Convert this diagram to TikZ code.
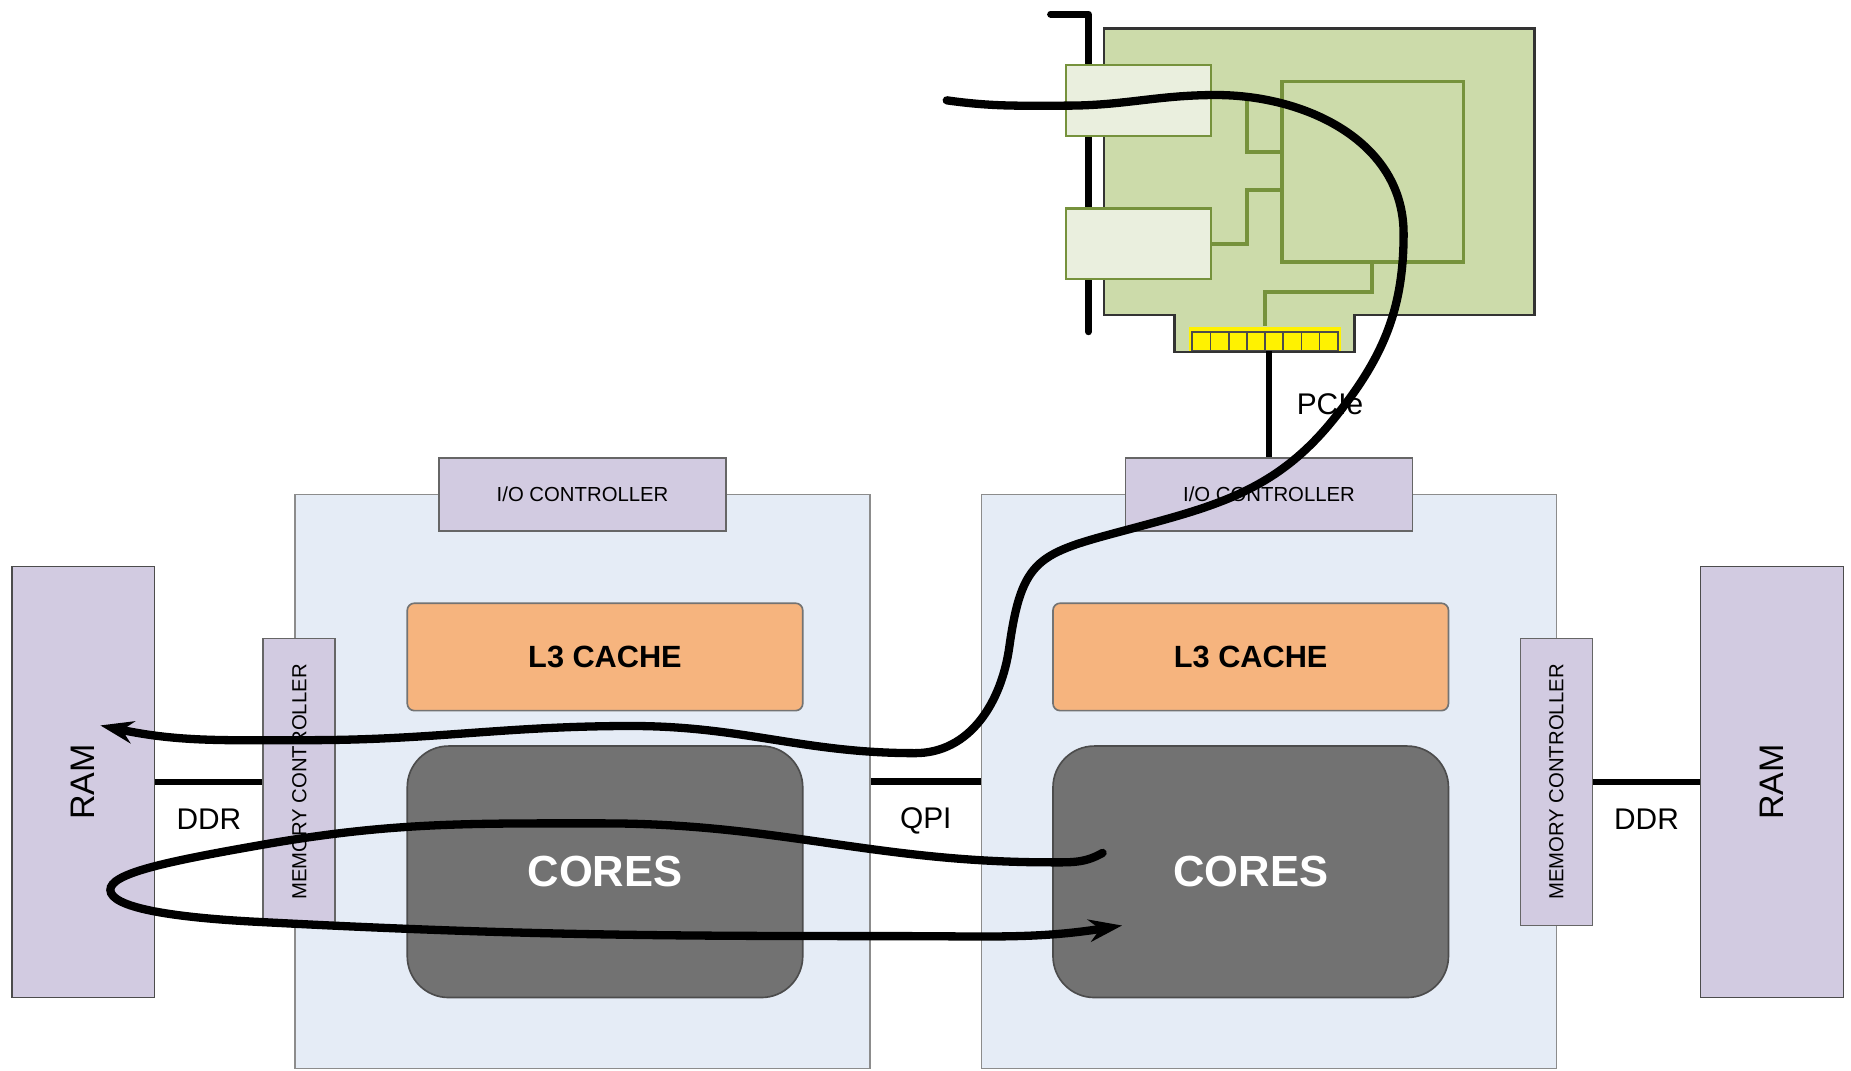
\documentclass[tikz,border=0pt]{standalone}
\usepackage{fontspec}
\setmainfont{Liberation Sans}
\usetikzlibrary{arrows.meta}

\definecolor{socketblue}{RGB}{229,236,246}
\definecolor{ctlpurple}{RGB}{210,203,225}
\definecolor{cacheorange}{RGB}{246,180,126}
\definecolor{coregray}{RGB}{114,114,114}
\definecolor{boardgreen}{RGB}{204,219,170}
\definecolor{portgreen}{RGB}{234,239,222}
\definecolor{traceolive}{RGB}{118,146,60}

\begin{document}
\begin{tikzpicture}[
    socket/.style={draw=black!45, fill=socketblue, minimum width=4.87cm, minimum height=4.86cm},
    ioctl/.style={draw=black!60, fill=ctlpurple, minimum width=2.43cm, minimum height=0.62cm, font=\fontsize{4.9}{6}\selectfont},
    memctl/.style={draw=black!60, fill=ctlpurple, rotate=90, minimum width=2.43cm, minimum height=0.61cm, font=\fontsize{4.9}{6}\selectfont},
    ram/.style={draw=black!70, fill=ctlpurple, rotate=90, minimum width=3.65cm, minimum height=1.21cm, font=\fontsize{8.2}{10}\selectfont},
    cache/.style={draw=black!55, fill=cacheorange, rounded corners=0.06cm, minimum width=3.35cm, minimum height=0.91cm, font=\bfseries\fontsize{7.4}{9}\selectfont},
    cores/.style={draw=black!70, fill=coregray, text=white, rounded corners=0.35cm, minimum width=3.35cm, minimum height=2.13cm, font=\bfseries\fontsize{10.5}{12}\selectfont},
    link/.style={line width=1.5pt},
    tag/.style={font=\fontsize{7.2}{9}\selectfont},
    port/.style={draw=traceolive, fill=portgreen, line width=0.6pt, minimum width=1.23cm, minimum height=0.6cm},
    trace/.style={draw=traceolive, line width=1pt},
    cable/.style={line width=2pt, line cap=round, -{Stealth[length=2.8mm, width=1.9mm]}}
  ]
  \useasboundingbox (0,0) rectangle (15.68,-9.07);

  % Nodes - sockets
  \node[socket] (cpuA) at (4.935,-6.62) {};
  \node[socket] (cpuB) at (10.75,-6.62) {};
  \node[ioctl] (ioA) at (4.935,-4.19) {I/O CONTROLLER};
  \node[ioctl] (ioB) at (10.75,-4.19) {I/O CONTROLLER};
  \node[memctl] (mcA) at (2.535,-6.625) {MEMORY CONTROLLER};
  \node[memctl] (mcB) at (13.185,-6.625) {MEMORY CONTROLLER};
  \node[cache] (l3A) at (5.125,-5.565) {L3 CACHE};
  \node[cache] (l3B) at (10.595,-5.565) {L3 CACHE};
  \node[cores] (coresA) at (5.125,-7.385) {CORES};
  \node[cores] (coresB) at (10.595,-7.385) {CORES};

  % Nodes - memory
  \node[ram] (ramA) at (0.705,-6.625) {RAM};
  \node[ram] (ramB) at (15.01,-6.625) {RAM};

  % Buses
  \draw[link] (ramA) -- node[tag, below=2.3pt] {DDR} (mcA);
  \draw[link] (cpuA) -- node[tag, below=2.3pt] {QPI} (cpuB);
  \draw[link] (mcB) -- node[tag, below=2.3pt] {DDR} (ramB);

  % Network card
  \draw[line width=1.7pt, line cap=round, line join=round] (8.90,-0.12) -- (9.22,-0.12) -- (9.22,-2.81);
  \draw[draw=black!80, fill=boardgreen, line width=0.6pt] (9.35,-0.24) -- (13.00,-0.24) -- (13.00,-2.67) -- (11.475,-2.67)
    -- (11.475,-2.98) -- (9.95,-2.98) -- (9.95,-2.67) -- (9.35,-2.67) -- cycle;
  \node[port] (portA) at (9.645,-0.85) {};
  \node[port] (portB) at (9.645,-2.065) {};
  \node[draw=traceolive, line width=0.8pt, minimum width=1.54cm, minimum height=1.53cm] (chip) at (11.63,-1.455) {};
  \node[fill=yellow, minimum width=1.29cm, minimum height=0.2cm, inner sep=0pt] (fingers) at (10.715,-2.87) {};
  \foreach \i in {0,...,7}
    \draw[black!70, fill=yellow, line width=0.4pt] ({10.10+\i*0.154},-2.81) rectangle ++(0.154,-0.16);
  \draw[trace] ([yshift=0.03cm]portA.east) -- ++(0.295,0) |- ([yshift=0.165cm]chip.west);
  \draw[trace] (portB.east) -- ++(0.295,0) |- ([yshift=-0.155cm]chip.west);
  \draw[trace] ([xshift=-0.01cm]chip.south) -- ++(0,-0.24) -| (fingers.north);
  \draw[link] (fingers.south -| ioB.north) -- node[tag, right=2.6pt] {PCIe} (ioB.north);

  % Packet path: wire -> card -> socket B -> RAM A
  \coordinate (plug) at (8.02,-0.85);
  \coordinate (dmaA) at ([shift={(0.145,0.48)}]ramA.center);
  \draw[cable] (plug) to[out=-8,in=180] (9.03,-0.895) to[out=0,in=180] (10.30,-0.805)
    to[out=0,in=90] (11.89,-1.98) to[out=-90,in=51] (11.29,-3.56)
    to[out=-129,in=15] (9.54,-4.49) to[out=-165,in=82,looseness=1.4] (8.55,-5.48)
    to[out=-98,in=0] (7.75,-6.38) to[out=180,in=0] (5.35,-6.15)
    to[out=180,in=0] (2.60,-6.27) to[out=180,in=-12] (dmaA);

  % Remote read: cores B -> RAM A -> cores B
  \coordinate (reqB) at ([shift={(-1.255,0.16)}]coresB.center);
  \coordinate (rspB) at ([shift={(-1.09,-0.455)}]coresB.center);
  \draw[cable] (reqB) to[out=-150,in=0] (8.90,-7.305) to[out=180,in=0] (5.11,-6.975) to[out=180,in=10] (2.20,-7.16)
    .. controls (1.40,-7.30) and (0.93,-7.40) .. (0.935,-7.54)
    .. controls (0.94,-7.68) and (1.40,-7.77) .. (2.20,-7.81)
    to[out=-3,in=180] (7.63,-7.93) to[out=0,in=189] (rspB);
\end{tikzpicture}
\end{document}
